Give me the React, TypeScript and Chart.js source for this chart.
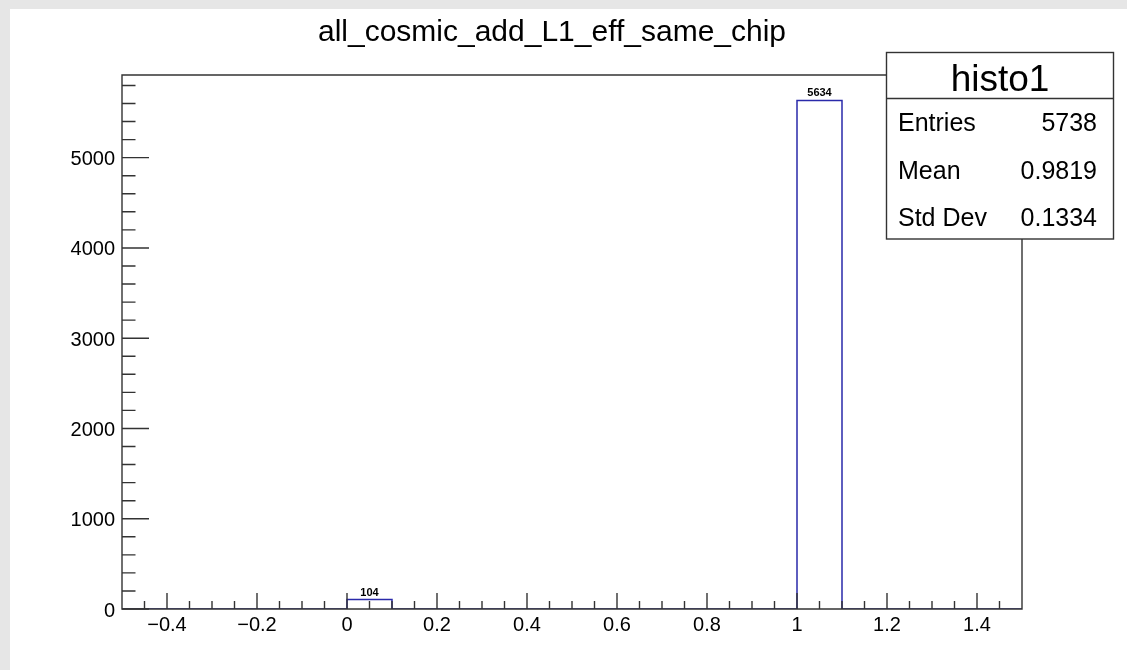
import React, { useEffect, useRef } from "react";
import { Chart, registerables } from "chart.js";

Chart.register(...registerables);

const chartTitle = "all_cosmic_add_L1_eff_same_chip";
const histName = "histo1";
const binEdges = [-0.5, -0.4, -0.3, -0.2, -0.1, 0, 0.1, 0.2, 0.3, 0.4, 0.5, 0.6, 0.7, 0.8, 0.9, 1.0, 1.1, 1.2, 1.3, 1.4, 1.5];
const binCounts = [0, 0, 0, 0, 0, 104, 0, 0, 0, 0, 0, 0, 0, 0, 0, 5634, 0, 0, 0, 0];
const xTickValues = [-0.4, -0.2, 0, 0.2, 0.4, 0.6, 0.8, 1, 1.2, 1.4];
const xTickLabels = ["\u22120.4", "\u22120.2", "0", "0.2", "0.4", "0.6", "0.8", "1", "1.2", "1.4"];
const yTickValues = [0, 1000, 2000, 3000, 4000, 5000];
const yTickLabels = ["0", "1000", "2000", "3000", "4000", "5000"];
const statNames = ["Entries", "Mean", "Std Dev"];
const statValues = ["5738", "0.9819", "0.1334"];

const W = 1127;
const H = 670;
const FONT = "'Liberation Sans', Arial, Helvetica, sans-serif";

export default function App() {
  const ref = useRef<HTMLCanvasElement | null>(null);

  useEffect(() => {
    const canvas = ref.current;
    if (!canvas) return;

    const points = binEdges.slice(0, binCounts.length).map((e, i) => ({ x: e, y: binCounts[i] }));
    points.push({ x: binEdges[binEdges.length - 1], y: binCounts[binCounts.length - 1] });

    const yMax = Math.max(...binCounts) * 1.05;

    const rootPlugin = {
      id: "rootStyle",
      beforeDraw(chart: any) {
        const ctx = chart.ctx;
        ctx.save();
        ctx.fillStyle = "#e6e6e6";
        ctx.fillRect(0, 0, W, H);
        ctx.fillStyle = "#ffffff";
        ctx.fillRect(10, 9, W - 10, H - 9);
        ctx.restore();
      },
      afterDatasetsDraw(chart: any) {
        const ctx = chart.ctx;
        const xs = chart.scales.x;
        const ys = chart.scales.y;
        const area = chart.chartArea;
        const L = area.left, R = area.right, T = area.top, B = area.bottom;
        ctx.save();
        ctx.strokeStyle = "#333333";
        ctx.lineWidth = 1.4;
        ctx.beginPath();
        ctx.rect(L, T, R - L, B - T);
        ctx.stroke();

        const xMajLen = 0.03 * (B - T);
        ctx.beginPath();
        for (let k = -9; k < 30; k++) {
          const vv = Math.round(k * 5) / 100;
          const px = xs.getPixelForValue(vv);
          const isMajor = k % 4 === 0;
          const len = isMajor ? xMajLen : xMajLen / 2;
          ctx.moveTo(px, B);
          ctx.lineTo(px, B - len);
        }
        const yMajLen = 0.03 * (R - L);
        for (let v = 0; v <= yMax; v += 200) {
          const py = ys.getPixelForValue(v);
          const isMajor = v % 1000 === 0;
          const len = isMajor ? yMajLen : yMajLen / 2;
          ctx.moveTo(L, py);
          ctx.lineTo(L + len, py);
        }
        ctx.stroke();

        ctx.fillStyle = "#000000";
        ctx.font = `20px ${FONT}`;
        ctx.textAlign = "center";
        ctx.textBaseline = "alphabetic";
        xTickValues.forEach((v, i) => {
          ctx.fillText(xTickLabels[i], xs.getPixelForValue(v), 631);
        });
        ctx.textAlign = "right";
        yTickValues.forEach((v, i) => {
          ctx.fillText(yTickLabels[i], 115, ys.getPixelForValue(v) + 7.5);
        });

        ctx.font = `bold 11px ${FONT}`;
        ctx.textAlign = "center";
        binCounts.forEach((c, i) => {
          if (c > 0) {
            const cx = xs.getPixelForValue((binEdges[i] + binEdges[i + 1]) / 2);
            ctx.fillText(String(c), cx, ys.getPixelForValue(c) - 4);
          }
        });

        ctx.font = `30px ${FONT}`;
        ctx.textAlign = "center";
        ctx.fillText(chartTitle, 552, 41);

        const bx = 886.5, by = 52.5, bw = 227, bh = 186.5;
        ctx.fillStyle = "#ffffff";
        ctx.fillRect(bx, by, bw, bh);
        ctx.strokeStyle = "#333333";
        ctx.lineWidth = 1.4;
        ctx.strokeRect(bx, by, bw, bh);
        ctx.beginPath();
        ctx.moveTo(bx, 98.5);
        ctx.lineTo(bx + bw, 98.5);
        ctx.stroke();
        ctx.fillStyle = "#000000";
        ctx.font = `37px ${FONT}`;
        ctx.textAlign = "center";
        ctx.fillText(histName, bx + bw / 2, 91);
        ctx.font = `25px ${FONT}`;
        const rowBase = [131, 178.5, 225.5];
        statNames.forEach((n, i) => {
          ctx.textAlign = "left";
          ctx.fillText(n, 898, rowBase[i]);
          ctx.textAlign = "right";
          ctx.fillText(statValues[i], 1097, rowBase[i]);
        });
        ctx.restore();
      },
    };

    const chart = new Chart(canvas, {
      type: "line",
      data: {
        datasets: [
          {
            data: points,
            stepped: true,
            borderColor: "#2a2aaa",
            borderWidth: 1.5,
            pointRadius: 0,
            fill: false,
          },
        ],
      },
      options: {
        animation: false,
        responsive: false,
        devicePixelRatio: 1,
        layout: { padding: { left: 122, top: 75, right: 105, bottom: 61 } },
        plugins: { legend: { display: false }, tooltip: { enabled: false }, title: { display: false } },
        scales: {
          x: { type: "linear", min: -0.5, max: 1.5, display: false },
          y: { type: "linear", min: 0, max: yMax, display: false },
        },
      },
      plugins: [rootPlugin],
    } as any);

    return () => chart.destroy();
  }, []);

  return (
    <div style={{ position: "fixed", left: 0, top: 0, width: W, height: H }}>
      <canvas ref={ref} width={W} height={H} style={{ width: W, height: H, display: "block" }} />
    </div>
  );
}
